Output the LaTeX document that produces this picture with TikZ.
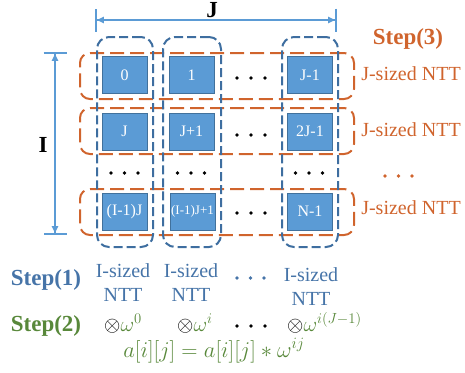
\RequirePackage{fix-cm}
\documentclass[tikz,border=0pt]{standalone}
\usepackage{fontspec}
\setmainfont{Liberation Serif}
\usetikzlibrary{arrows.meta}

\definecolor{cellfill}{RGB}{91,155,213}
\definecolor{celledge}{RGB}{65,113,156}
\definecolor{colblue}{RGB}{62,110,160}
\definecolor{txtblue}{RGB}{70,116,168}
\definecolor{rowora}{RGB}{208,100,45}
\definecolor{stepgreen}{RGB}{88,136,58}
\definecolor{measure}{RGB}{91,155,213}

\tikzset{
  cell/.style={draw=celledge, line width=0.8pt, fill=cellfill, text=white,
    minimum width=45pt, minimum height=37pt, inner sep=0pt,
    font=\fontsize{16}{18}\selectfont},
  rowgroup/.style={draw=rowora, line width=2pt, rounded corners=10pt,
    dash pattern=on 14pt off 6pt, minimum width=274pt, minimum height=46pt,
    inner sep=0pt},
  colgroup/.style={draw=colblue, line width=2pt, rounded corners=12pt,
    dash pattern=on 9pt off 4pt, minimum height=210pt, inner sep=0pt},
  dimline/.style={draw=measure, line width=1.8pt,
    {Bar[width=23pt]Triangle[length=7pt,width=6pt,sep=0pt]}-{Triangle[length=7pt,width=6pt,sep=0pt]Bar[width=23pt]}},
  rowlabel/.style={text=rowora, anchor=base, font=\fontsize{20}{24}\selectfont},
  collabel/.style={text=txtblue, align=center, anchor=base,
    font=\fontsize{20}{24}\selectfont},
  steplabel/.style={anchor=base, font=\bfseries\fontsize{23}{26}\selectfont},
  factor/.style={anchor=base west, inner sep=0pt, font=\fontsize{21}{24}\selectfont},
  dotmark/.style={circle, fill=black, inner sep=0pt, minimum size=3.6pt}
}

\begin{document}
\begin{tikzpicture}[x=1pt,y=-1pt]
\useasboundingbox (0,0) rectangle (465,372);

% row groups (J-sized NTT)
\node[rowgroup] (r1) at (217,76) {};
\node[rowgroup] (r2) at (217,131) {};
\node[rowgroup] (r4) at (217,212) {};

% column groups (I-sized NTT)
\node[colgroup, minimum width=56pt] (c1) at (125,142) {};
\node[colgroup, minimum width=58pt] (c2) at (192,142) {};
\node[colgroup, minimum width=56pt] (c4) at (310,142) {};

% matrix cells
\node[cell] (b11) at (124.5,75) {0};
\node[cell] (b12) at (191.5,75) {1};
\node[cell] (b14) at (310,75) {J-1};
\node[cell] (b21) at (124.5,131.5) {J};
\node[cell] (b22) at (191.5,131.5) {J+1};
\node[cell] (b24) at (310,131.5) {2J-1};
\node[cell] (b41) at (124.5,211.5) {(I-1)J};
\node[cell, font=\fontsize{13}{15}\selectfont] (b42) at (192.5,211.5) {(I-1)J+1};
\node[cell] (b44) at (310,211.5) {N-1};

% ellipses between cells
\foreach \y/\r in {78/a,135/b,213/c}{
  \foreach \x/\k in {237/1,251/2,265/3}{
    \node[dotmark] (h\r\k) at (\x,\y) {};
  }
}
\foreach \x/\c in {124.5/a,191/b,309/c}{
  \node[dotmark] (v\c1) at (\x-13.5,173) {};
  \node[dotmark] (v\c2) at (\x,173) {};
  \node[dotmark] (v\c3) at (\x+13.5,173) {};
}
\foreach \x/\k in {385/1,398.5/2,412/3}{
  \node[dotmark, fill=rowora] (o\k) at (\x,176) {};
}

% dimension arrows
\coordinate (jL) at (95,20);
\coordinate (jR) at (337,20);
\draw[dimline] (jL) -- (jR);
\node[anchor=base, font=\bfseries\fontsize{23}{26}\selectfont] (jlab) at (212,17) {J};

\coordinate (iT) at (55,52);
\coordinate (iB) at (55,235);
\draw[dimline] (iT) -- (iB);
\node[font=\bfseries\fontsize{23}{26}\selectfont] (ilab) at (43,145) {I};

% step 3 labels
\node[steplabel, text=rowora] (s3) at (408,44) {Step(3)};
\node[rowlabel] (n1) at (411,80) {J-sized NTT};
\node[rowlabel] (n2) at (411,136) {J-sized NTT};
\node[rowlabel] (n4) at (411,214) {J-sized NTT};

% step 1 labels
\node[steplabel, text=txtblue] (s1) at (46,285) {Step(1)};
\node[collabel] (m1) at (123,301) {I-sized\\NTT};
\node[collabel] (m2) at (191,301) {I-sized\\NTT};
\node[collabel] (m4) at (311,305) {I-sized\\NTT};
\foreach \x/\k in {237/1,250.5/2,264/3}{
  \node[dotmark, fill=txtblue] (p\k) at (\x,278) {};
}

% step 2 labels
\node[steplabel, text=stepgreen] (s2) at (46,331) {Step(2)};
\node[factor] (f1) at (104,331) {$\otimes\textcolor{stepgreen}{\omega^{0}}$};
\node[factor] (f2) at (177,331) {$\otimes\textcolor{stepgreen}{\omega^{i}}$};
\node[factor] (f4) at (287,331) {$\otimes\textcolor{stepgreen}{\omega^{i(J-1)}}$};
\foreach \x/\k in {237/1,251/2,265/3}{
  \node[dotmark] (q\k) at (\x,326) {};
}
\node[factor, anchor=base, text=stepgreen, font=\fontsize{22.5}{26}\selectfont] (eq) at (214,357)
  {$a[i][j]=a[i][j]*\omega^{ij}$};
\end{tikzpicture}
\end{document}
